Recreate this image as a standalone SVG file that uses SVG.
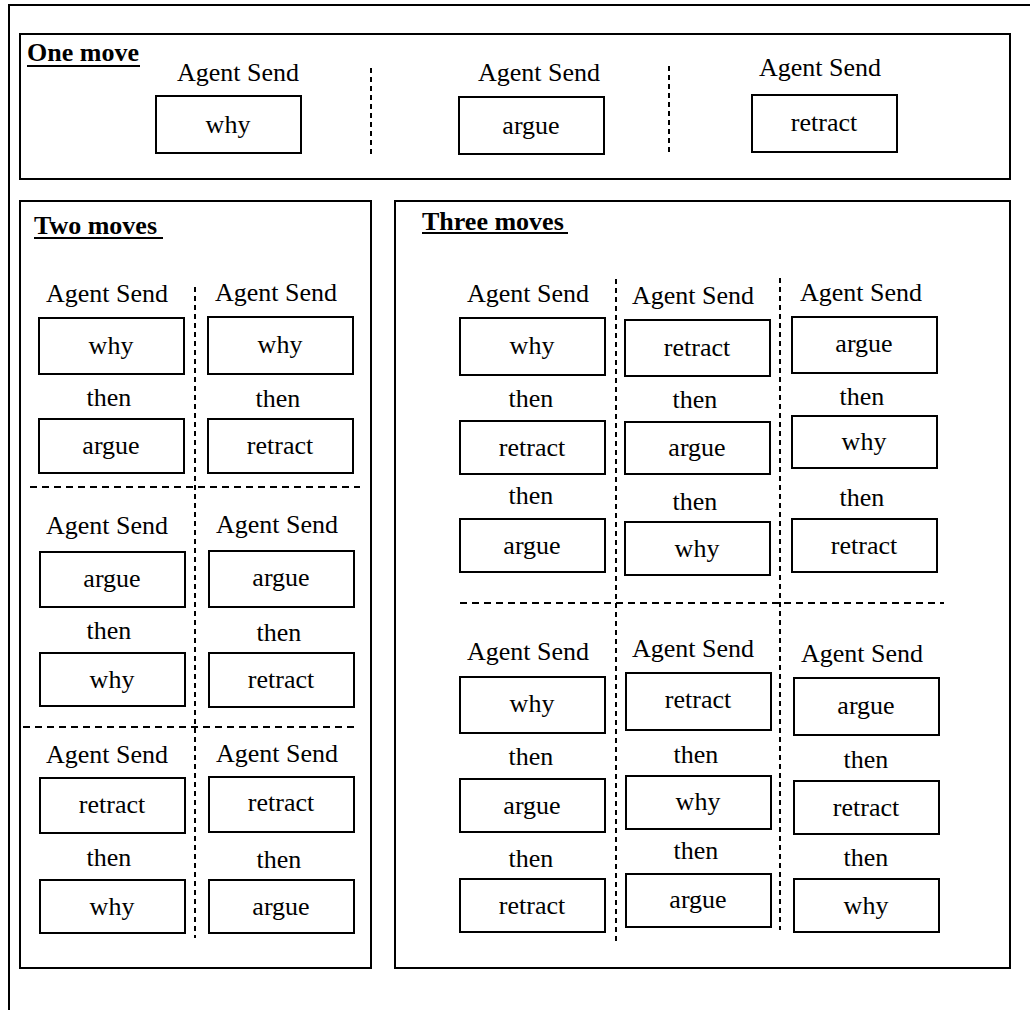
<svg xmlns="http://www.w3.org/2000/svg" width="1030" height="1010" viewBox="0 0 1030 1010">
<style>
.bg{fill:#fff}
.frame{fill:none;stroke:#000;stroke-width:2}
.box{fill:#fff;stroke:#000;stroke-width:2}
.t{font-family:"Liberation Serif","Times New Roman",serif;font-size:26px;text-anchor:middle;fill:#000}
.h{font-family:"Liberation Serif","Times New Roman",serif;font-size:26px;font-weight:bold;fill:#000}
.ul{stroke:#000;stroke-width:2}
.vd{stroke:#000;stroke-width:2;stroke-dasharray:5 4;fill:none}
.hd{stroke:#000;stroke-width:2;stroke-dasharray:7 5;fill:none}
</style>
<rect class="bg" x="0" y="0" width="1030" height="1010"/>
<path class="frame" d="M1032 5 H9 V1012"/>

<!-- One move -->
<g id="panel-one">
<rect class="frame" x="20" y="34" width="990" height="145"/>
<text class="h" x="27" y="61">One move</text>
<line class="ul" x1="27" y1="66" x2="140" y2="66"/>
<text class="t" x="238" y="81">Agent Send</text>
<text class="t" x="539" y="81">Agent Send</text>
<text class="t" x="820" y="76">Agent Send</text>
</g>
<g id="one-why"><rect class="box" x="156" y="96" width="145" height="57"/><text class="t" x="228" y="133">why</text></g>
<g id="one-argue"><rect class="box" x="459" y="97" width="145" height="57"/><text class="t" x="531" y="134">argue</text></g>
<g id="one-retract"><rect class="box" x="752" y="95" width="145" height="57"/><text class="t" x="824" y="131">retract</text></g>

<!-- Two moves -->
<g id="panel-two">
<rect class="frame" x="20" y="201" width="351" height="767"/>
<text class="h" x="34" y="234">Two moves</text>
<line class="ul" x1="34" y1="238" x2="163" y2="238"/>
<text class="t" x="107" y="302">Agent Send</text>
<text class="t" x="276" y="301">Agent Send</text>
<text class="t" x="109" y="406">then</text>
<text class="t" x="278" y="407">then</text>
<text class="t" x="107" y="534">Agent Send</text>
<text class="t" x="277" y="533">Agent Send</text>
<text class="t" x="109" y="639">then</text>
<text class="t" x="279" y="641">then</text>
<text class="t" x="107" y="763">Agent Send</text>
<text class="t" x="277" y="762">Agent Send</text>
<text class="t" x="109" y="866">then</text>
<text class="t" x="279" y="868">then</text>
</g>
<g id="two-1a"><rect class="box" x="39" y="318" width="145" height="56"/><text class="t" x="111" y="354">why</text></g>
<g id="two-1b"><rect class="box" x="39" y="419" width="145" height="54"/><text class="t" x="111" y="454">argue</text></g>
<g id="two-2a"><rect class="box" x="208" y="317" width="145" height="57"/><text class="t" x="280" y="353">why</text></g>
<g id="two-2b"><rect class="box" x="208" y="419" width="145" height="54"/><text class="t" x="280" y="454">retract</text></g>
<g id="two-3a"><rect class="box" x="40" y="552" width="145" height="55"/><text class="t" x="112" y="587">argue</text></g>
<g id="two-3b"><rect class="box" x="40" y="653" width="145" height="53"/><text class="t" x="112" y="688">why</text></g>
<g id="two-4a"><rect class="box" x="209" y="551" width="145" height="56"/><text class="t" x="281" y="586">argue</text></g>
<g id="two-4b"><rect class="box" x="209" y="653" width="145" height="54"/><text class="t" x="281" y="688">retract</text></g>
<g id="two-5a"><rect class="box" x="40" y="778" width="145" height="55"/><text class="t" x="112" y="813">retract</text></g>
<g id="two-5b"><rect class="box" x="40" y="880" width="145" height="53"/><text class="t" x="112" y="915">why</text></g>
<g id="two-6a"><rect class="box" x="209" y="777" width="145" height="55"/><text class="t" x="281" y="811">retract</text></g>
<g id="two-6b"><rect class="box" x="209" y="880" width="145" height="53"/><text class="t" x="281" y="915">argue</text></g>

<!-- Three moves -->
<g id="panel-three">
<rect class="frame" x="395" y="201" width="615" height="767"/>
<text class="h" x="422" y="230">Three moves</text>
<line class="ul" x1="422" y1="233" x2="568" y2="233"/>
<text class="t" x="528" y="302">Agent Send</text>
<text class="t" x="693" y="304">Agent Send</text>
<text class="t" x="861" y="301">Agent Send</text>
<text class="t" x="531" y="407">then</text>
<text class="t" x="695" y="408">then</text>
<text class="t" x="862" y="405">then</text>
<text class="t" x="531" y="504">then</text>
<text class="t" x="695" y="510">then</text>
<text class="t" x="862" y="506">then</text>
<text class="t" x="528" y="660">Agent Send</text>
<text class="t" x="693" y="657">Agent Send</text>
<text class="t" x="862" y="662">Agent Send</text>
<text class="t" x="531" y="765">then</text>
<text class="t" x="696" y="763">then</text>
<text class="t" x="866" y="768">then</text>
<text class="t" x="531" y="867">then</text>
<text class="t" x="696" y="859">then</text>
<text class="t" x="866" y="866">then</text>
</g>
<g id="three-1a"><rect class="box" x="460" y="318" width="145" height="57"/><text class="t" x="532" y="354">why</text></g>
<g id="three-1b"><rect class="box" x="460" y="421" width="145" height="53"/><text class="t" x="532" y="456">retract</text></g>
<g id="three-1c"><rect class="box" x="460" y="519" width="145" height="53"/><text class="t" x="532" y="554">argue</text></g>
<g id="three-2a"><rect class="box" x="625" y="320" width="145" height="56"/><text class="t" x="697" y="356">retract</text></g>
<g id="three-2b"><rect class="box" x="625" y="422" width="145" height="52"/><text class="t" x="697" y="456">argue</text></g>
<g id="three-2c"><rect class="box" x="625" y="522" width="145" height="53"/><text class="t" x="697" y="557">why</text></g>
<g id="three-3a"><rect class="box" x="792" y="317" width="145" height="56"/><text class="t" x="864" y="352">argue</text></g>
<g id="three-3b"><rect class="box" x="792" y="416" width="145" height="52"/><text class="t" x="864" y="450">why</text></g>
<g id="three-3c"><rect class="box" x="792" y="519" width="145" height="53"/><text class="t" x="864" y="554">retract</text></g>
<g id="three-4a"><rect class="box" x="460" y="677" width="145" height="56"/><text class="t" x="532" y="712">why</text></g>
<g id="three-4b"><rect class="box" x="460" y="779" width="145" height="53"/><text class="t" x="532" y="814">argue</text></g>
<g id="three-4c"><rect class="box" x="460" y="879" width="145" height="53"/><text class="t" x="532" y="914">retract</text></g>
<g id="three-5a"><rect class="box" x="626" y="673" width="145" height="57"/><text class="t" x="698" y="708">retract</text></g>
<g id="three-5b"><rect class="box" x="626" y="776" width="145" height="53"/><text class="t" x="698" y="810">why</text></g>
<g id="three-5c"><rect class="box" x="626" y="874" width="145" height="53"/><text class="t" x="698" y="908">argue</text></g>
<g id="three-6a"><rect class="box" x="794" y="678" width="145" height="57"/><text class="t" x="866" y="714">argue</text></g>
<g id="three-6b"><rect class="box" x="794" y="781" width="145" height="53"/><text class="t" x="866" y="816">retract</text></g>
<g id="three-6c"><rect class="box" x="794" y="879" width="145" height="53"/><text class="t" x="866" y="914">why</text></g>

<!-- dashed separators -->
<g id="connectors">
<line class="vd" x1="371" y1="68" x2="371" y2="155"/>
<line class="vd" x1="669" y1="66" x2="669" y2="155"/>
<line class="vd" x1="195" y1="287" x2="195" y2="938"/>
<line class="hd" x1="30" y1="487" x2="360" y2="487"/>
<line class="hd" x1="23" y1="727" x2="354" y2="727"/>
<line class="vd" x1="616" y1="279" x2="616" y2="942"/>
<line class="vd" x1="780" y1="278" x2="780" y2="930"/>
<line class="hd" x1="460" y1="603" x2="944" y2="603"/>
</g>
</svg>
